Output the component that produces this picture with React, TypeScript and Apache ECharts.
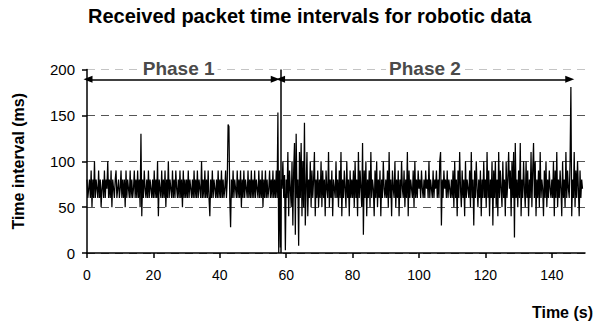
import React, { useEffect, useRef } from "react";
import * as echarts from "echarts";

// Sampling step of the received-packet log (seconds)
const sampleStepS = 0.25;

// Phase 1: packet intervals (ms), t = 0 .. 57.75 s
const phase1Ms: number[] = [
  80,60,70,80,60,90,50,80,60,100,60,80,70,60,90,60,80,50,70,80,60,90,60,80,70,100,60,80,60,90,50,80,70,60,80,90,60,70,80,60,
  70,90,60,80,60,80,50,90,60,80,70,60,90,60,80,60,70,90,60,80,60,90,60,80,50,130,40,80,60,90,70,60,80,60,90,60,80,70,60,80,
  60,90,60,80,60,100,40,80,70,60,90,60,80,60,90,50,80,60,100,60,80,70,60,90,60,80,60,90,70,60,80,60,90,60,80,50,90,60,80,60,
  80,60,90,60,80,70,60,80,60,90,60,80,60,90,60,80,70,60,100,60,80,60,90,60,80,60,90,60,40,80,60,90,60,80,70,60,80,60,90,60,
  80,60,90,60,80,60,70,90,60,80,140,138,60,28,80,60,90,60,80,70,60,90,60,80,60,90,50,80,60,90,60,80,70,60,90,60,80,60,90,60,
  80,60,90,60,80,70,60,90,60,80,60,90,50,80,60,90,60,80,60,70,90,60,80,60,90,60,80,60,90,60,153,0,
];

// Phase 2: packet intervals (ms), t = 58 .. 149.25 s
const phase2Ms: number[] = [
  90,6,80,70,100,60,85,3,
  80,60,110,40,90,70,50,100,30,90,120,20,130,60,80,8,110,60,120,40,100,50,142,30,70,110,40,80,60,100,50,90,60,80,110,40,80,60,90,50,
  80,60,100,50,90,60,80,40,90,70,60,110,50,80,60,90,40,80,70,60,100,60,80,50,90,60,110,40,80,60,90,70,50,100,60,80,40,90,60,80,
  60,90,50,100,60,80,40,110,60,90,70,50,120,20,90,60,100,40,80,60,90,50,110,60,80,70,40,90,60,100,50,80,60,90,40,80,60,100,70,60,
  80,60,90,50,110,60,80,40,90,70,60,100,50,80,60,90,40,80,60,100,70,60,90,50,80,60,110,40,90,60,80,70,60,90,50,100,60,80,60,90,
  70,80,60,90,70,60,80,60,90,70,80,60,100,60,80,70,60,90,60,80,70,90,60,80,60,100,110,30,80,60,90,70,80,60,90,60,80,70,60,80,
  60,90,50,100,60,80,40,90,60,110,70,50,90,60,80,40,100,60,80,70,60,90,50,110,60,80,30,90,60,100,70,50,80,60,90,40,80,60,100,60,
  80,50,110,60,90,40,80,60,100,30,90,60,100,50,80,40,110,60,90,70,50,100,60,80,40,100,60,80,110,70,90,40,100,60,110,17,120,60,80,50,
  90,60,120,40,80,60,100,70,50,100,60,90,40,80,60,110,50,90,120,60,100,40,80,60,90,50,110,60,80,70,40,90,60,100,50,80,60,90,70,60,
  80,60,100,40,90,60,110,50,80,60,90,70,40,100,60,80,50,110,60,90,70,60,100,181,40,80,60,110,50,90,60,100,70,40,90,60,80,70,
];

const xTickValues = [0, 20, 40, 60, 80, 100, 120, 140];

const phaseLabels = ["Phase 1", "Phase 2"];
const phaseLabelX = [27.6, 101.8];
const phase1Range = [0.3, 56.7];
const phase2Range = [58.3, 145.4];
const phaseBoundaryS = 58.5;
const arrowLevelMs = 189.3;

const FONT = "Liberation Sans, Arial, Helvetica, sans-serif";

export default function App() {
  const ref = useRef<HTMLDivElement>(null);
  useEffect(() => {
    if (!ref.current) return;
    const chart = echarts.init(ref.current, undefined, { renderer: "svg" });
    const allMs = phase1Ms.concat(phase2Ms);
    const seriesData = allMs.map((v, i) => [i * sampleStepS, v]);

    const arrowStyle = { color: "#000", width: 1.5, type: "solid" as const };

    chart.setOption({
      animation: false,
      backgroundColor: "#fff",
      textStyle: { fontFamily: FONT },
      title: {
        text: "Received packet time intervals for robotic data",
        left: 83,
        top: 1,
        textStyle: { fontFamily: FONT, fontSize: 20, fontWeight: "bold", color: "#000" },
      },
      grid: { left: 87, right: 9, top: 69.5, bottom: 71, containLabel: false },
      xAxis: {
        type: "value",
        min: 0,
        max: 150,
        interval: 20,
        axisLine: { show: true, lineStyle: { color: "#000", width: 1.5 } },
        axisTick: { show: true, length: 5, lineStyle: { color: "#000", width: 1.5 }, customValues: xTickValues },
        axisLabel: { fontFamily: FONT, fontSize: 14, color: "#000", margin: 15, customValues: xTickValues },
        splitLine: { show: false },
      },
      yAxis: {
        type: "value",
        min: 0,
        max: 200,
        interval: 50,
        name: "Time interval (ms)",
        nameLocation: "middle",
        nameGap: 61,
        nameTextStyle: { fontFamily: FONT, fontSize: 16, fontWeight: "bold", color: "#000" },
        axisLine: { show: true, lineStyle: { color: "#000", width: 1.5 } },
        axisTick: { show: true, length: 5, lineStyle: { color: "#000", width: 1.5 } },
        axisLabel: { fontFamily: FONT, fontSize: 15, color: "#000", margin: 12 },
        splitLine: {
          show: true,
          lineStyle: { type: [8, 6], width: 1, color: ["#555", "#555", "#555", "#555", "#c4c4c4"] },
        },
      },
      graphic: [
        {
          type: "text",
          right: 1,
          top: 304,
          style: { text: "Time (s)", font: `bold 16px ${FONT}`, fill: "#000" },
        },
      ],
      series: [
        {
          type: "line",
          data: seriesData,
          symbol: "none",
          lineStyle: { color: "#000", width: 1.25 },
          itemStyle: { color: "#000" },
          z: 3,
          markLine: {
            silent: true,
            animation: false,
            label: { show: false },
            symbolSize: [7, 9],
            data: [
              [
                { coord: [phaseBoundaryS, 0], symbol: "none", lineStyle: { color: "#000", width: 1.5, type: "solid" } },
                { coord: [phaseBoundaryS, 200], symbol: "none" },
              ],
              [
                { coord: [phase1Range[0], arrowLevelMs], symbol: "triangle", lineStyle: arrowStyle },
                { coord: [phase1Range[1], arrowLevelMs], symbol: "triangle" },
              ],
              [
                { coord: [phase2Range[0], arrowLevelMs], symbol: "triangle", lineStyle: arrowStyle },
                { coord: [phase2Range[1], arrowLevelMs], symbol: "triangle" },
              ],
            ],
          },
          markPoint: {
            silent: true,
            symbol: "rect",
            symbolSize: [1, 1],
            itemStyle: { color: "rgba(0,0,0,0)" },
            data: phaseLabels.map((name, i) => ({
              name,
              coord: [phaseLabelX[i], 200],
              label: {
                show: true,
                position: "inside",
                offset: [0, -1],
                formatter: name,
                fontFamily: FONT,
                fontSize: 19,
                fontWeight: "bold",
                color: "#4a4a4a",
                backgroundColor: "#fff",
                padding: [0, 3],
              },
            })),
          },
        },
      ],
    });
    return () => chart.dispose();
  }, []);
  return <div ref={ref} style={{ width: 594, height: 324, position: "absolute", left: 0, top: 0 }} />;
}
